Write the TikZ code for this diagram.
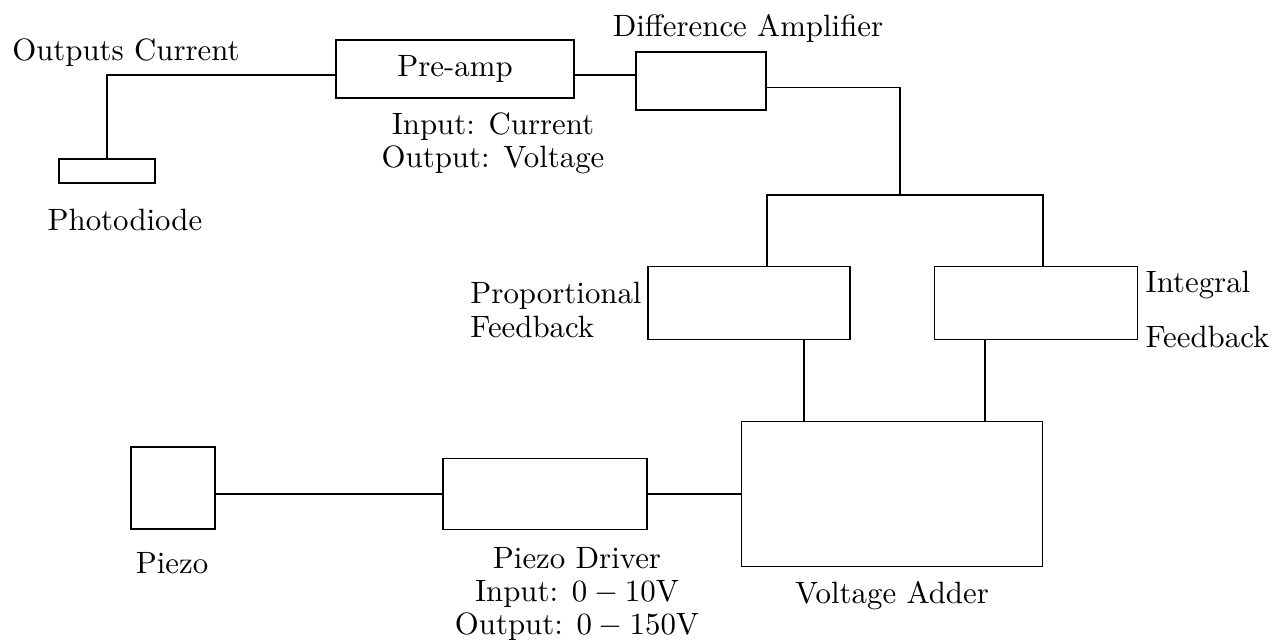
\documentclass[tikz,border=0pt]{standalone}
\usepackage{amsmath}
\usetikzlibrary{positioning, calc}

\begin{document}
\begin{tikzpicture}[x=0.0114cm, y=-0.0114cm,
    blk/.style 2 args={draw, thin, minimum width=#1*0.0114cm, minimum height=#2*0.0114cm, inner sep=0pt},
    lbl/.style={inner sep=0pt, font=\fontsize{10}{10.8}\selectfont}]
  \useasboundingbox (0,0) rectangle (1278,643);

  % blocks
  \node[blk={96}{24}] (photodiode) at (107,171) {};
  \node[blk={238}{58}] (preamp) at (455,69) {Pre-amp};
  \node[blk={130}{58}] (diffamp) at (701,81) {};
  \node[blk={202}{73}] (propfb) at (749,303) {};
  \node[blk={203}{73}] (intfb) at (1036,303) {};
  \node[blk={301}{145}] (adder) at (892,494) {};
  \node[blk={204}{71}] (driver) at (545,494) {};
  \node[blk={84}{82}] (piezo) at (173,488) {};

  % labels
  \node[lbl] (lbloutputs) at (126,53) {Outputs Current};
  \node[lbl] (lblphoto) at (125,220) {Photodiode};
  \node[lbl, align=center] (lblpreamp) at (493,143) {Input: Current\\Output: Voltage};
  \node[lbl] (lbldiff) at (748,28) {Difference Amplifier};
  \node[lbl, align=left] (lblprop) at (556,310) {Proportional\\Feedback};
  \node[lbl, align=left, anchor=north west] (lblint) at (1145,270) {Integral\\[2.5mm]Feedback};
  \node[lbl] (lblpiezo) at (172,563) {Piezo};
  \node[lbl, align=center] (lbldriver) at (577,594) {Piezo Driver\\Input: $0-10$V\\Output: $0-150$V};
  \node[lbl] (lbladder) at (892,596) {Voltage Adder};

  % connectors
  \coordinate (split) at (900,195);
  \coordinate (pin) at ($(propfb.north)+(18,0)$);
  \coordinate (iin) at ($(intfb.north)+(7,0)$);
  \coordinate (pout) at ($(propfb.south)+(55,0)$);
  \coordinate (iout) at ($(intfb.south)+(-51,0)$);
  \draw (photodiode.north) |- ($(preamp.west)+(0,6)$);
  \draw ($(preamp.east)+(0,6)$) -- ($(diffamp.west)+(0,-6)$);
  \draw ($(diffamp.east)+(0,6.5)$) -| (split);
  \draw (pin) |- (split) -| (iin);
  \draw (pout) -- (pout |- adder.north);
  \draw (iout) -- (iout |- adder.north);
  \draw (driver.east) -- (adder.west);
  \draw (piezo.east |- driver.west) -- (driver.west);
\end{tikzpicture}
\end{document}
